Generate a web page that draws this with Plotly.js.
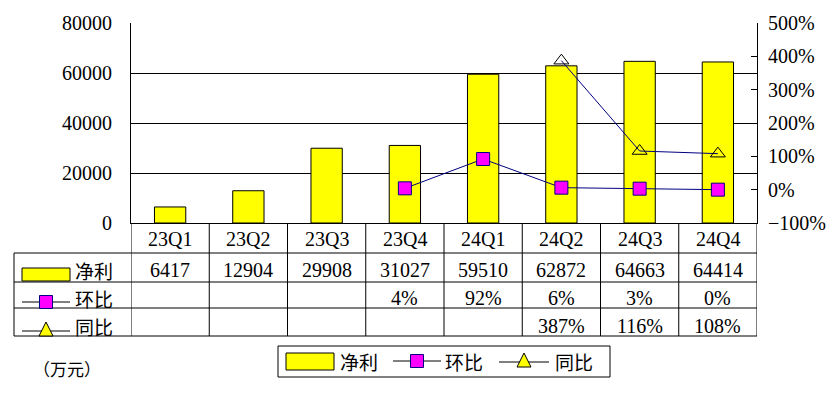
<!DOCTYPE html>
<html>
<head>
<meta charset="utf-8">
<script src="https://cdn.plot.ly/plotly-3.0.1.min.js"></script>
<style>html,body{margin:0;padding:0;background:#fff;}#chart{width:836px;height:398px;}</style>
</head>
<body>
<div id="chart"></div>
<script>
// ---- data ----
const categories = ["23Q1","23Q2","23Q3","23Q4","24Q1","24Q2","24Q3","24Q4"];
const netProfit = [6417, 12904, 29908, 31027, 59510, 62872, 64663, 64414];
const qoq = [null, null, null, 4, 92, 6, 3, 0];       // 环比 (%)
const yoy = [null, null, null, null, null, 387, 116, 108]; // 同比 (%)
const seriesNames = ["净利", "环比", "同比"];
const unitLabel = "（万元）";

// ---- geometry helpers (plot area: x 131..757, y 23..223 px) ----
const L = 131, R = 757, T = 23, B = 223;
const px = v => (v - L) / (R - L);
const py = v => (B - v) / (B - T);

const FONT = "Liberation Serif, Noto Sans CJK SC, serif";
const CJK = "Noto Sans CJK SC, sans-serif";
const LINE = "#000080";

const traces = [
  {type: "bar", x: categories, y: netProfit, name: seriesNames[0], width: 0.4,
   marker: {color: "#FFFF00", line: {color: "#000", width: 1}}, yaxis: "y", showlegend: false, hoverinfo: "skip"},
  {type: "scatter", mode: "lines+markers", x: categories, y: qoq, name: seriesNames[1], yaxis: "y2",
   line: {color: LINE, width: 1}, connectgaps: false,
   marker: {symbol: "square", size: 13, color: "#FF00FF", line: {color: LINE, width: 1}}, showlegend: false, hoverinfo: "skip"},
  {type: "scatter", mode: "lines+markers", x: categories, y: yoy, name: seriesNames[2], yaxis: "y2",
   line: {color: LINE, width: 1},
   marker: {symbol: "triangle-up-open", size: 13, color: "#000", line: {color: "#000", width: 1}}, showlegend: false, hoverinfo: "skip"}
];

const shapes = [];
const annotations = [];
const ln = (x0, y0, x1, y1, xref) => shapes.push({type: "line", xref: xref || "paper", yref: "paper",
  x0, y0, x1, y1, line: {color: "#000", width: 1}});
const txt = (xref, x, y, text, font) => annotations.push({xref, yref: "paper", x, y, text, showarrow: false,
  xanchor: "center", yanchor: "middle", font});

// table horizontal lines
[253, 282, 308, 336].forEach(y => ln(px(14), py(y), px(R), py(y)));
// vertical lines
ln(px(14), py(253), px(14), py(336));
for (let i = 0; i <= categories.length; i++) {
  shapes.push({type: "line", xref: "x", yref: "paper", x0: i - 0.5, x1: i - 0.5, y0: py(B), y1: py(336),
    line: {color: "#000", width: 1}});
}

// table cell text
const rowY = {cat: 239, np: 270, qoq: 298, yoy: 326};
const cellFont = {family: FONT, size: 20, color: "#000"};
const fmtPct = v => (v === null ? "" : v + "%");
categories.forEach((c, i) => {
  txt("x", c, py(rowY.cat), c, cellFont);
  txt("x", c, py(rowY.np), String(netProfit[i]), cellFont);
  if (qoq[i] !== null) txt("x", c, py(rowY.qoq), fmtPct(qoq[i]), cellFont);
  if (yoy[i] !== null) txt("x", c, py(rowY.yoy), fmtPct(yoy[i]), cellFont);
});

// row keys in table
function keyBar(x0, x1, y0, y1) {
  shapes.push({type: "rect", xref: "paper", yref: "paper", x0: px(x0), x1: px(x1), y0: py(y0), y1: py(y1),
    fillcolor: "#FFFF00", line: {color: "#000", width: 1}});
}
function keySquare(xl, xr, yc, cx) {
  ln(px(xl), py(yc), px(xr), py(yc));
  shapes.push({type: "rect", xref: "paper", yref: "paper", x0: px(cx - 6.5), x1: px(cx + 6.5),
    y0: py(yc - 6.5), y1: py(yc + 6.5), fillcolor: "#FF00FF", line: {color: LINE, width: 1}});
}
function keyTri(xl, xr, yc, cx) {
  ln(px(xl), py(yc), px(xr), py(yc));
  const p = `M ${px(cx - 7)} ${py(yc + 5)} L ${px(cx)} ${py(yc - 9)} L ${px(cx + 7)} ${py(yc + 5)} Z`;
  shapes.push({type: "path", xref: "paper", yref: "paper", path: p, fillcolor: "#FFFF00", line: {color: "#000", width: 1}});
}
keyBar(22, 70, 268, 281);
keySquare(22, 70, 302, 46);
keyTri(22, 70, 331, 46);
const lblFont = {family: CJK, size: 19, color: "#000"};
[[seriesNames[0], rowY.np], [seriesNames[1], rowY.qoq], [seriesNames[2], rowY.yoy]].forEach(([t, y]) =>
  txt("paper", px(94), py(y), t, lblFont));

// bottom legend
shapes.push({type: "rect", xref: "paper", yref: "paper", x0: px(278), x1: px(610), y0: py(346), y1: py(377),
  fillcolor: "rgba(0,0,0,0)", line: {color: "#000", width: 1}});
keyBar(286, 334, 353, 370);
keySquare(393, 441, 361, 417);
keyTri(499, 549, 362, 524);
[[seriesNames[0], 359], [seriesNames[1], 464], [seriesNames[2], 574]].forEach(([t, x]) =>
  txt("paper", px(x), py(361), t, lblFont));

txt("paper", px(67), py(368), unitLabel, {family: CJK, size: 17, color: "#000"});

const layout = {
  width: 836, height: 398,
  margin: {l: L, r: 836 - R, t: T, b: 398 - B, pad: 0},
  paper_bgcolor: "#fff", plot_bgcolor: "#fff",
  showlegend: false,
  xaxis: {type: "category", range: [-0.5, 7.5], showticklabels: false, ticks: "",
    showline: true, linecolor: "#000", linewidth: 1, showgrid: false, zeroline: false, fixedrange: true},
  yaxis: {range: [0, 80000], dtick: 20000, tick0: 0, tickformat: "d", showgrid: true, gridcolor: "#000", gridwidth: 1,
    showline: true, linecolor: "#000", linewidth: 1, zeroline: false, ticks: "", ticklabelstandoff: 14,
    tickfont: {family: FONT, size: 20, color: "#000"}, fixedrange: true},
  yaxis2: {overlaying: "y", side: "right", range: [-100, 500], dtick: 100, tick0: -100, ticksuffix: "%",
    showgrid: false, zeroline: false, showline: true, linecolor: "#000", linewidth: 1,
    ticks: "inside", ticklen: 6, tickcolor: "#000", ticklabelstandoff: 6,
    tickfont: {family: FONT, size: 20, color: "#000"}, fixedrange: true},
  shapes, annotations
};

Plotly.newPlot("chart", traces, layout, {displayModeBar: false, staticPlot: true});
</script>
</body>
</html>
